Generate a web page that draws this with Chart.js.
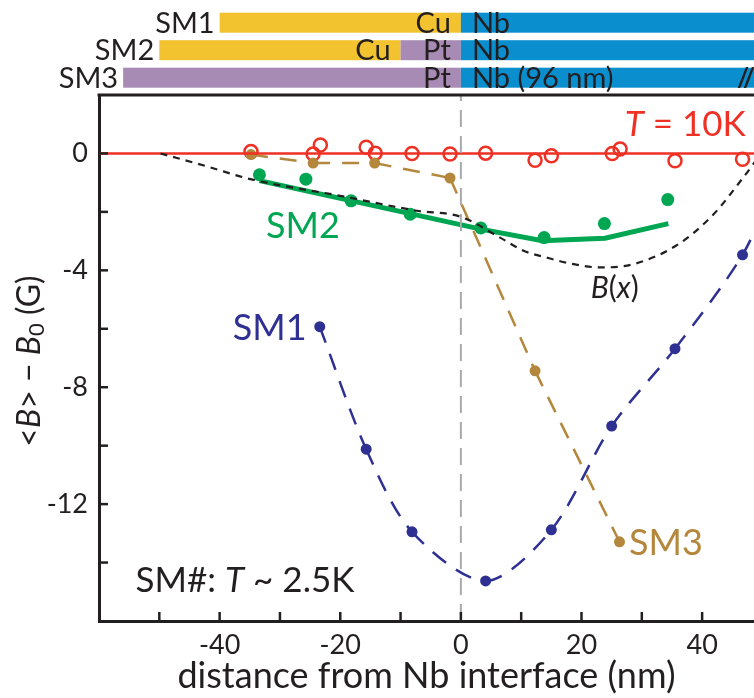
<!DOCTYPE html>
<html><head><meta charset="utf-8">
<script src="https://cdn.jsdelivr.net/npm/chart.js@4/dist/chart.umd.min.js"></script>
<style>html,body{margin:0;padding:0;background:#fff;overflow:hidden}</style>
</head><body><canvas id="c" width="754" height="698"></canvas>
<script>
// ---------- data ----------
const xTickLabels = [-40, -20, 0, 20, 40];
const yTickLabels = [0, -4, -8, -12];

const t10kX = [-34.8, -24.5, -23.3, -15.7, -14.2, -8.1, -1.8, 4.1, 12.3, 15.0, 25.1, 26.4, 35.5, 46.7];
const t10kY = [0.07, -0.02, 0.29, 0.21, 0.01, 0.0, -0.02, 0.01, -0.23, -0.08, 0.0, 0.15, -0.25, -0.2];
const t10kLineX = [-60, 50];
const t10kLineY = [0, 0];

const sm2X = [-33.4, -25.7, -18.2, -8.4, 3.3, 13.8, 23.8, 34.3];
const sm2Y = [-0.73, -0.88, -1.62, -2.08, -2.55, -2.88, -2.40, -1.58];
const sm2FitX = [-33.4, 3.3, 13.5, 23.9, 34.4];
const sm2FitY = [-0.93, -2.59, -2.99, -2.90, -2.40];

const sm3X = [-34.8, -24.5, -14.3, -1.8, 12.3, 26.3];
const sm3Y = [-0.04, -0.33, -0.33, -0.84, -7.44, -13.29];

const sm1X = [-23.4, -15.7, -8.1, 4.1, 15.0, 25.0, 35.5, 46.7, 52];
const sm1Y = [-5.93, -10.12, -12.95, -14.63, -12.88, -9.33, -6.68, -3.47, -1.0];

const bxX = [-49.8, -42, -34.9, -20, -7.3, 0, 6.5, 10.4, 14.5, 18.7, 23.1, 28.6, 36.1, 41.9, 46.6, 48.5, 50];
const bxY = [0, -0.45, -0.88, -1.45, -1.96, -2.17, -2.88, -3.33, -3.58, -3.79, -3.90, -3.79, -3.10, -2.08, -0.88, -0.36, 0.1];

const interfaceX = [0, 0];
const interfaceY = [-16, 2];

// sample stacks (nm)
const stackSamples = ['SM1', 'SM2', 'SM3'];
const layerRow = [0, 0, 1, 1, 1, 2, 2];
const layerMaterial = ['Cu', 'Nb', 'Cu', 'Pt', 'Nb', 'Pt', 'Nb'];
const layerText = ['Cu', 'Nb', 'Cu', 'Pt', 'Nb', 'Pt', 'Nb (96 nm)'];
const layerFrom = [-40, 0, -50, -10, 0, -56, 0];
const layerTo = [0, 96, -10, 0, 96, 0, 96];

// ---------- styling ----------
const FONT = 'Lato, "Open Sans", sans-serif';
const INK = '#231F20';
const RED = '#EE3124', GREEN = '#00A651', BROWN = '#B4873C', NAVY = '#2E3192';
const MAT = { Cu: '#F3C22F', Pt: '#A88BB4', Nb: '#0A8ECE' };

const pts = (xs, ys) => xs.map((x, i) => ({ x, y: ys[i] }));
const restartDash = { borderDashOffset: c => (c.p0DataIndex % 2) * 0.0001 };

function rich(ctx, parts, x, y, align, size, color) {
  const fonts = parts.map(p => `${p.i ? 'italic ' : ''}${Math.round(size * (p.s || 1))}px ${FONT}`);
  const widths = parts.map((p, k) => { ctx.font = fonts[k]; return ctx.measureText(p.t).width; });
  const total = widths.reduce((a, b) => a + b, 0);
  let cx = align === 'center' ? x - total / 2 : align === 'right' ? x - total : x;
  ctx.fillStyle = color; ctx.textAlign = 'left'; ctx.textBaseline = 'middle';
  parts.forEach((p, k) => { ctx.font = fonts[k]; ctx.fillText(p.t, cx, y + (p.dy || 0)); cx += widths[k]; });
}

const deco = {
  id: 'deco',
  afterDraw(chart) {
    const ctx = chart.ctx, xs = chart.scales.x, ys = chart.scales.y, ca = chart.chartArea;
    ctx.save();
    // top frame line
    ctx.strokeStyle = INK; ctx.lineWidth = 3;
    ctx.beginPath(); ctx.moveTo(ca.left - 1.5, ca.top); ctx.lineTo(ca.right, ca.top); ctx.stroke();
    // inward tick marks
    ctx.lineWidth = 2.5;
    xs.ticks.forEach(t => {
      if (t.value <= xs.min || t.value >= xs.max) return;
      const px = xs.getPixelForValue(t.value);
      ctx.beginPath(); ctx.moveTo(px, ca.bottom); ctx.lineTo(px, ca.bottom - 9); ctx.stroke();
    });
    ys.ticks.forEach(t => {
      if (t.value <= ys.min || t.value >= ys.max) return;
      const py = ys.getPixelForValue(t.value);
      ctx.beginPath(); ctx.moveTo(ca.left, py); ctx.lineTo(ca.left + 9, py); ctx.stroke();
    });
    // header: sample stacks
    const rowH = 20;
    const rowTop = i => ca.top - 82.3 + 27.5 * i;
    layerFrom.forEach((f, k) => {
      const r = layerRow[k];
      const x0 = xs.getPixelForValue(f), x1 = Math.min(xs.getPixelForValue(layerTo[k]), chart.width);
      ctx.fillStyle = MAT[layerMaterial[k]];
      ctx.fillRect(x0, rowTop(r), x1 - x0, rowH);
    });
    ctx.fillStyle = INK; ctx.textBaseline = 'alphabetic'; ctx.font = `29px ${FONT}`;
    stackSamples.forEach((s, r) => {
      const starts = layerFrom.filter((f, k) => layerRow[k] === r);
      ctx.textAlign = 'right';
      ctx.fillText(s, xs.getPixelForValue(Math.min(...starts)) - 5, rowTop(r) + rowH);
    });
    layerText.forEach((t, k) => {
      const r = layerRow[k];
      if (layerMaterial[k] === 'Nb') {
        ctx.textAlign = 'left';
        ctx.fillText(t, xs.getPixelForValue(layerFrom[k]) + 11, rowTop(r) + rowH);
      } else {
        ctx.textAlign = 'right';
        ctx.fillText(t, xs.getPixelForValue(layerTo[k]) - 10, rowTop(r) + rowH);
      }
    });
    // break mark on the Nb layer
    ctx.font = `bold 26px ${FONT}`; ctx.textAlign = 'center';
    ctx.fillText('//', chart.width - 8, rowTop(2) + rowH - 1);

    // in-plot annotations
    const P = (x, y) => [xs.getPixelForValue(x), ys.getPixelForValue(y)];
    let p;
    p = P(-26.2, -2.49); rich(ctx, [{ t: 'SM2' }], p[0], p[1], 'center', 36, GREEN);
    p = P(-31.7, -5.98); rich(ctx, [{ t: 'SM1' }], p[0], p[1], 'center', 36, NAVY);
    p = P(34.0, -13.34); rich(ctx, [{ t: 'SM3' }], p[0], p[1], 'center', 36, BROWN);
    p = P(25.5, -4.61); rich(ctx, [{ t: 'B', i: 1 }, { t: '(' }, { t: 'x', i: 1 }, { t: ')' }], p[0], p[1], 'center', 30, INK);
    p = P(37.2, 0.97); rich(ctx, [{ t: 'T', i: 1 }, { t: ' = 10K' }], p[0], p[1], 'center', 35, RED);
    p = P(-35.8, -14.61); rich(ctx, [{ t: 'SM#: ' }, { t: 'T', i: 1 }, { t: ' ~ 2.5K' }], p[0], p[1], 'center', 35, INK);

    // y-axis title
    ctx.translate(30, (ca.top + ca.bottom) / 2 + 3);
    ctx.rotate(-Math.PI / 2);
    rich(ctx, [{ t: '<' }, { t: 'B', i: 1 }, { t: '> \u2212 ' }, { t: 'B', i: 1 }, { t: '0', s: 0.7, dy: 7 }, { t: ' (G)' }], 0, 0, 'center', 32, INK);
    ctx.restore();
  }
};

new Chart(document.getElementById('c'), {
  type: 'scatter',
  data: {
    datasets: [
      { data: pts(interfaceX, interfaceY), showLine: true, borderColor: '#A7A9AC', borderWidth: 2, borderDash: [17, 9], pointRadius: 0 },
      { data: pts(bxX, bxY), showLine: true, borderColor: INK, borderWidth: 2.2, borderDash: [7, 6], cubicInterpolationMode: 'monotone', pointRadius: 0 },
      { data: pts(t10kLineX, t10kLineY), showLine: true, borderColor: RED, borderWidth: 2.5, pointRadius: 0 },
      { data: pts(sm3X, sm3Y), showLine: true, borderColor: BROWN, borderWidth: 2.5, borderDash: [17, 12], segment: restartDash, pointRadius: 5.5, pointBackgroundColor: BROWN, pointBorderWidth: 0 },
      { data: pts(sm1X, sm1Y), showLine: true, borderColor: NAVY, borderWidth: 2.5, borderDash: [17, 12], segment: restartDash, tension: 0.3, pointRadius: c => c.dataIndex < 8 ? 5.5 : 0, pointBackgroundColor: NAVY, pointBorderWidth: 0 },
      { data: pts(sm2FitX, sm2FitY), showLine: true, borderColor: GREEN, borderWidth: 5, pointRadius: 0 },
      { data: pts(sm2X, sm2Y), showLine: false, pointRadius: 6.5, pointBackgroundColor: GREEN, pointBorderWidth: 0 },
      { data: pts(t10kX, t10kY), showLine: false, pointRadius: 6.5, pointBackgroundColor: 'rgba(0,0,0,0)', pointBorderColor: RED, pointBorderWidth: 2.5 }
    ]
  },
  options: {
    responsive: false, animation: false, devicePixelRatio: 1,
    layout: { autoPadding: false, padding: { top: 95, left: 0, right: 0, bottom: 0 } },
    plugins: { legend: { display: false }, tooltip: { enabled: false } },
    scales: {
      x: {
        type: 'linear', min: -60, max: 48.6,
        afterFit: s => { s.height = 77; s.paddingLeft = 0; s.paddingRight = 0; },
        grid: { display: false, drawTicks: false },
        border: { display: true, color: INK, width: 3 },
        ticks: { stepSize: 10, includeBounds: false, autoSkip: false, maxRotation: 0, padding: 8, color: INK, font: { family: FONT, size: 27 },
          callback: v => xTickLabels.includes(v) ? String(v) : '' },
        title: { display: true, text: 'distance from Nb interface (nm)', color: INK, font: { family: FONT, size: 36 }, padding: { top: 0, bottom: 0 } }
      },
      y: {
        type: 'linear', min: -16, max: 2,
        afterFit: s => { s.width = 99; s.paddingTop = 0; s.paddingBottom = 0; },
        grid: { display: false, drawTicks: false },
        border: { display: true, color: INK, width: 3 },
        ticks: { stepSize: 2, includeBounds: false, autoSkip: false, padding: 11, color: INK, font: { family: FONT, size: 27 },
          callback: v => yTickLabels.includes(v) ? String(v) : '' }
      }
    }
  },
  plugins: [deco]
});
</script></body></html>
